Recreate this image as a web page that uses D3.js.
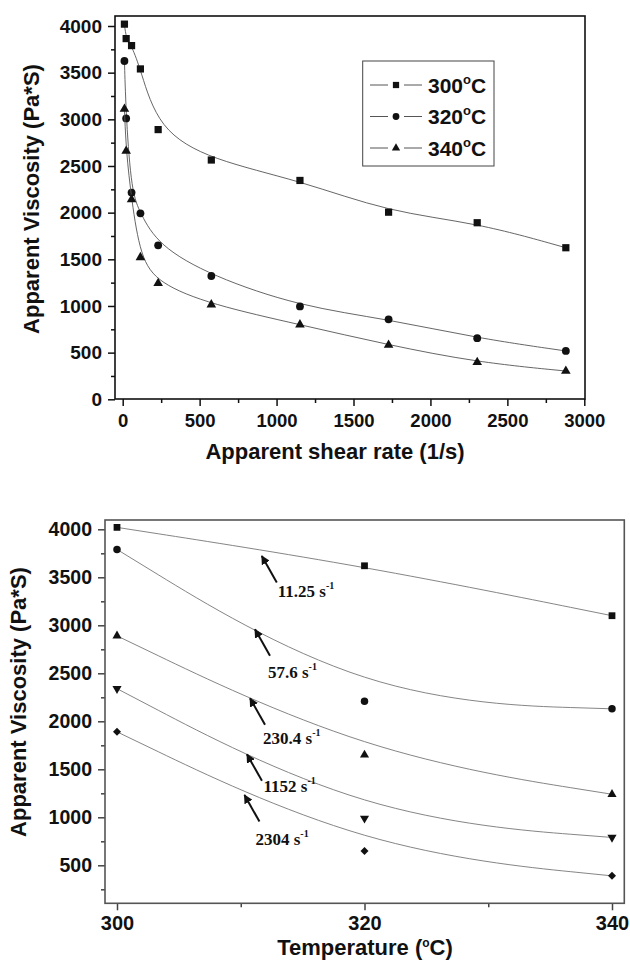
<!DOCTYPE html>
<html>
<head>
<meta charset="utf-8">
<script src="https://cdn.jsdelivr.net/npm/d3@7"></script>
<style>
  body { margin: 0; background: #fff; }
  svg { display: block; }
  .tick text { font-family: "Liberation Sans", Arial, sans-serif; font-weight: bold; }
</style>
</head>
<body>
<div id="chart"></div>
<script>
// ---- top chart data: viscosity vs shear rate
let shearRates = [11.25, 22.5, 57.6, 115.2, 230.4, 576, 1152, 1728, 2304, 2880];
let temps = ["300", "320", "340"];
let visc300 = [4020, 3865, 3790, 3540, 2890, 2564, 2345, 2005, 1892, 1624];
let visc320 = [3625, 3010, 2215, 1993, 1650, 1321, 995, 857, 655, 518];
let visc340 = [3110, 2660, 2140, 1521, 1243, 1014, 800, 582, 396, 303];

// ---- bottom chart data: viscosity vs temperature
let temperatures = [300, 320, 340];
let rateLabels = ["11.25", "57.6", "230.4", "1152", "2304"];
let v11 = [4020, 3620, 3100];
let v57 = [3790, 2210, 2130];
let v230 = [2890, 1650, 1240];
let v1152 = [2340, 990, 790];
let v2304 = [1890, 650, 390];

// arrow heads of the annotations (temperature, viscosity)
let arrowT = [311.7, 311.15, 310.75, 310.5, 310.3];
let arrowV = [3722, 2958, 2240, 1656, 1232];

// tick labels
let topXTicks = [0, 500, 1000, 1500, 2000, 2500, 3000];
let topYTicks = [0, 500, 1000, 1500, 2000, 2500, 3000, 3500, 4000];
let botXTicks = [300, 320, 340];
let botYTicks = [500, 1000, 1500, 2000, 2500, 3000, 3500, 4000];

const W = 630, H = 965;
const sans = '"Liberation Sans", Arial, sans-serif';
const serif = '"Liberation Serif", "Times New Roman", serif';
const fmt = d3.format("d");

let svg = d3.select("#chart").append("svg")
  .attr("width", W)
  .attr("height", H);

// ================= top chart =================
let topBox = { left: 115, right: 585, top: 16, bottom: 399 };

let xT = d3.scaleLinear().domain([0, 3000]).range([122.7, 584.3]);
let yT = d3.scaleLinear().domain([0, 4000]).range([399.3, 26]);

let gTop = svg.append("g");

// minor ticks
gTop.append("g")
  .attr("transform", `translate(0,${topBox.bottom})`)
  .call(d3.axisBottom(xT).tickValues(d3.range(250, 3000, 500)).tickSize(4).tickFormat(""))
  .call(g => g.select(".domain").remove());
gTop.append("g")
  .attr("transform", `translate(${topBox.left},0)`)
  .call(d3.axisLeft(yT).tickValues(d3.range(250, 4000, 500)).tickSize(4).tickFormat(""))
  .call(g => g.select(".domain").remove());

// major ticks
gTop.append("g")
  .attr("transform", `translate(0,${topBox.bottom})`)
  .call(d3.axisBottom(xT).tickValues(topXTicks).tickFormat(fmt).tickSize(7).tickPadding(8))
  .call(g => g.select(".domain").remove())
  .call(g => g.selectAll("text").attr("font-size", 18.5).attr("fill", "#111"));
gTop.append("g")
  .attr("transform", `translate(${topBox.left},0)`)
  .call(d3.axisLeft(yT).tickValues(topYTicks).tickFormat(fmt).tickSize(7).tickPadding(6))
  .call(g => g.select(".domain").remove())
  .call(g => g.selectAll("text").attr("font-size", 19).attr("fill", "#111"));

gTop.selectAll(".tick line").attr("stroke", "#111").attr("stroke-width", 1.5);

gTop.append("rect")
  .attr("x", topBox.left).attr("y", topBox.top)
  .attr("width", topBox.right - topBox.left).attr("height", topBox.bottom - topBox.top)
  .attr("fill", "none").attr("stroke", "#111").attr("stroke-width", 1.6);

let lineT = d3.line()
  .x((d, i) => xT(shearRates[i]))
  .y(d => yT(d))
  .curve(d3.curveBasis);

let topSeries = [
  { name: temps[0], values: visc300, symbol: d3.symbolSquare, size: 52 },
  { name: temps[1], values: visc320, symbol: d3.symbolCircle, size: 48 },
  { name: temps[2], values: visc340, symbol: d3.symbolTriangle, size: 40 }
];

topSeries.forEach(s => {
  gTop.append("path")
    .attr("d", lineT(s.values))
    .attr("fill", "none")
    .attr("stroke", "#555")
    .attr("stroke-width", 0.9);
  gTop.selectAll(null)
    .data(s.values)
    .join("path")
    .attr("transform", (d, i) => `translate(${xT(shearRates[i])},${yT(d)})`)
    .attr("d", d3.symbol().type(s.symbol).size(s.size))
    .attr("fill", "#111");
});

// legend
let legend = gTop.append("g");
legend.append("rect")
  .attr("x", 362.7).attr("y", 61).attr("width", 131.3).attr("height", 105)
  .attr("fill", "#fff").attr("stroke", "#444").attr("stroke-width", 1);
topSeries.forEach((s, i) => {
  let cy = 85 + i * 31.5;
  legend.append("line").attr("x1", 370).attr("x2", 388).attr("y1", cy).attr("y2", cy)
    .attr("stroke", "#555").attr("stroke-width", 1);
  legend.append("line").attr("x1", 404).attr("x2", 422).attr("y1", cy).attr("y2", cy)
    .attr("stroke", "#555").attr("stroke-width", 1);
  legend.append("path")
    .attr("transform", `translate(396,${cy})`)
    .attr("d", d3.symbol().type(s.symbol).size(s.size * 0.75))
    .attr("fill", "#111");
  let t = legend.append("text")
    .attr("x", 428).attr("y", cy + 7.5)
    .attr("font-family", sans).attr("font-weight", "bold").attr("font-size", 21)
    .attr("fill", "#111");
  t.append("tspan").text(s.name);
  t.append("tspan").attr("font-size", 13).attr("dy", -9).text("o");
  t.append("tspan").attr("dy", 9).text("C");
});

// axis titles
gTop.append("text")
  .attr("transform", "translate(38.5,199) rotate(-90)")
  .attr("text-anchor", "middle")
  .attr("font-family", sans).attr("font-weight", "bold").attr("font-size", 22)
  .attr("fill", "#111")
  .text("Apparent Viscosity (Pa*S)");
gTop.append("text")
  .attr("x", 335).attr("y", 459)
  .attr("text-anchor", "middle")
  .attr("font-family", sans).attr("font-weight", "bold").attr("font-size", 22)
  .attr("fill", "#111")
  .text("Apparent shear rate (1/s)");

// ================= bottom chart =================
let botBox = { left: 105, right: 624.3, top: 520, bottom: 903.3 };

let xB = d3.scaleLinear().domain([300, 340]).range([117, 612]);
let yB = d3.scaleLinear().domain([500, 4000]).range([865.3, 529.3]);

let gBot = svg.append("g");

gBot.append("g")
  .attr("transform", `translate(0,${botBox.bottom})`)
  .call(d3.axisBottom(xB).tickValues([310, 330]).tickSize(4).tickFormat(""))
  .call(g => g.select(".domain").remove());
gBot.append("g")
  .attr("transform", `translate(${botBox.left},0)`)
  .call(d3.axisLeft(yB).tickValues(d3.range(250, 4000, 500)).tickSize(4).tickFormat(""))
  .call(g => g.select(".domain").remove());

gBot.append("g")
  .attr("transform", `translate(0,${botBox.bottom})`)
  .call(d3.axisBottom(xB).tickValues(botXTicks).tickFormat(fmt).tickSize(7).tickPadding(6))
  .call(g => g.select(".domain").remove())
  .call(g => g.selectAll("text").attr("font-size", 20).attr("fill", "#111"));
gBot.append("g")
  .attr("transform", `translate(${botBox.left},0)`)
  .call(d3.axisLeft(yB).tickValues(botYTicks).tickFormat(fmt).tickSize(7).tickPadding(6))
  .call(g => g.select(".domain").remove())
  .call(g => g.selectAll("text").attr("font-size", 19.5).attr("fill", "#111"));

gBot.selectAll(".tick line").attr("stroke", "#444").attr("stroke-width", 1.5);

gBot.append("rect")
  .attr("x", botBox.left).attr("y", botBox.top)
  .attr("width", botBox.right - botBox.left).attr("height", botBox.bottom - botBox.top)
  .attr("fill", "none").attr("stroke", "#555").attr("stroke-width", 1.6);

let lineB = d3.line()
  .x((d, i) => xB(temperatures[i]))
  .y(d => yB(d))
  .curve(d3.curveBasis);

let botSeries = [
  { values: v11, symbol: d3.symbolSquare, size: 46, rot: 0 },
  { values: v57, symbol: d3.symbolCircle, size: 44, rot: 0 },
  { values: v230, symbol: d3.symbolTriangle, size: 36, rot: 0 },
  { values: v1152, symbol: d3.symbolTriangle, size: 36, rot: 180 },
  { values: v2304, symbol: d3.symbolSquare, size: 32, rot: 45 }
];

botSeries.forEach(s => {
  gBot.append("path")
    .attr("d", lineB(s.values))
    .attr("fill", "none")
    .attr("stroke", "#777")
    .attr("stroke-width", 0.9);
  gBot.selectAll(null)
    .data(s.values)
    .join("path")
    .attr("transform", (d, i) => `translate(${xB(temperatures[i])},${yB(d)}) rotate(${s.rot})`)
    .attr("d", d3.symbol().type(s.symbol).size(s.size))
    .attr("fill", "#111");
});

// annotations
let labelDx = [16, 13, 13, 16.5, 11];
let labelDy = [41, 49, 46, 37.5, 50];

svg.append("defs").append("marker")
  .attr("id", "arrowhead")
  .attr("viewBox", "0 0 10 10")
  .attr("refX", 9).attr("refY", 5)
  .attr("markerWidth", 4.5).attr("markerHeight", 4.5)
  .attr("markerUnits", "strokeWidth")
  .attr("orient", "auto")
  .append("path")
  .attr("d", "M0,0 L10,5 L0,10 Z")
  .attr("fill", "#111");

rateLabels.forEach((lab, i) => {
  let hx = xB(arrowT[i]), hy = yB(arrowV[i]);
  gBot.append("line")
    .attr("x1", hx + 15).attr("y1", hy + 26.5)
    .attr("x2", hx).attr("y2", hy)
    .attr("stroke", "#111").attr("stroke-width", 2)
    .attr("marker-end", "url(#arrowhead)");
  let t = gBot.append("text")
    .attr("x", hx + labelDx[i]).attr("y", hy + labelDy[i])
    .attr("font-family", serif).attr("font-weight", "bold").attr("font-size", 17)
    .attr("fill", "#111");
  t.append("tspan").text(lab + " s");
  t.append("tspan").attr("font-size", 10).attr("dy", -8).text("-1");
});

gBot.append("text")
  .attr("transform", "translate(26,702) rotate(-90)")
  .attr("text-anchor", "middle")
  .attr("font-family", sans).attr("font-weight", "bold").attr("font-size", 22)
  .attr("fill", "#111")
  .text("Apparent Viscosity (Pa*S)");

let tt = gBot.append("text")
  .attr("x", 365).attr("y", 955)
  .attr("text-anchor", "middle")
  .attr("font-family", sans).attr("font-weight", "bold").attr("font-size", 22)
  .attr("fill", "#111");
tt.append("tspan").text("Temperature (");
tt.append("tspan").attr("font-size", 12).attr("dy", -8).text("o");
tt.append("tspan").attr("dy", 8).text("C)");
</script>
</body>
</html>
